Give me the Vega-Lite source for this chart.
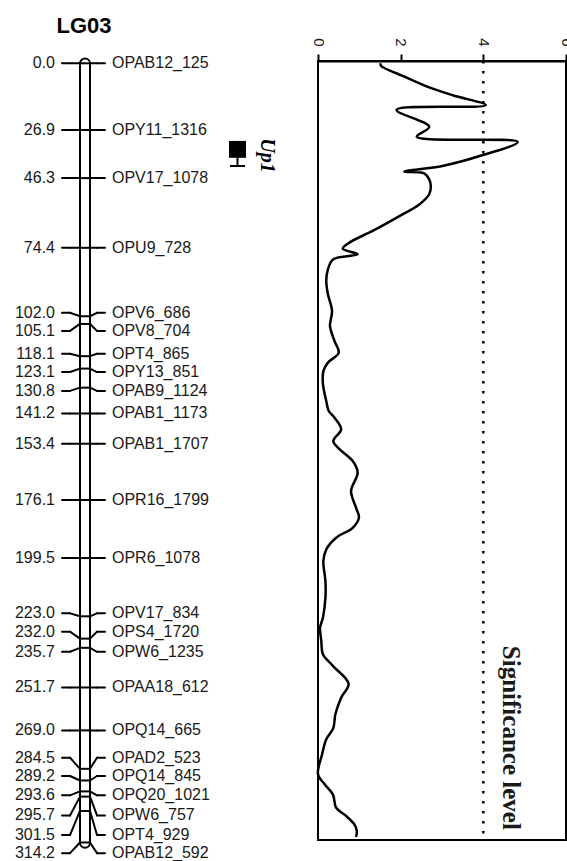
{
  "$schema": "https://vega.github.io/schema/vega-lite/v6.json",
  "padding": {"left": 0, "top": 14, "right": 0, "bottom": 0},
  "spacing": 18,
  "bounds": "flush",
  "config": {"view": {"stroke": null}, "font": "Liberation Sans"},
  "datasets": {
    "markers": [
      {"marker": "OPAB12_125", "cM": 0.0, "lab": 0.0},
      {"marker": "OPY11_1316", "cM": 26.9, "lab": 26.9},
      {"marker": "OPV17_1078", "cM": 46.3, "lab": 46.3},
      {"marker": "OPU9_728", "cM": 74.4, "lab": 74.4},
      {"marker": "OPV6_686", "cM": 102.0, "lab": 100.6},
      {"marker": "OPV8_704", "cM": 105.1, "lab": 107.9},
      {"marker": "OPT4_865", "cM": 118.1, "lab": 117.1},
      {"marker": "OPY13_851", "cM": 123.1, "lab": 124.5},
      {"marker": "OPAB9_1124", "cM": 130.8, "lab": 132.1},
      {"marker": "OPAB1_1173", "cM": 141.2, "lab": 141.2},
      {"marker": "OPAB1_1707", "cM": 153.4, "lab": 153.4},
      {"marker": "OPR16_1799", "cM": 176.1, "lab": 176.1},
      {"marker": "OPR6_1078", "cM": 199.5, "lab": 199.5},
      {"marker": "OPV17_834", "cM": 223.0, "lab": 221.8},
      {"marker": "OPS4_1720", "cM": 232.0, "lab": 229.2},
      {"marker": "OPW6_1235", "cM": 235.7, "lab": 237.3},
      {"marker": "OPAA18_612", "cM": 251.7, "lab": 251.7},
      {"marker": "OPQ14_665", "cM": 269.0, "lab": 269.0},
      {"marker": "OPAD2_523", "cM": 284.5, "lab": 280.0},
      {"marker": "OPQ14_845", "cM": 289.2, "lab": 287.4},
      {"marker": "OPQ20_1021", "cM": 293.6, "lab": 295.2},
      {"marker": "OPW6_757", "cM": 295.7, "lab": 303.3},
      {"marker": "OPT4_929", "cM": 301.5, "lab": 311.2},
      {"marker": "OPAB12_592", "cM": 314.2, "lab": 318.5}
    ],
    "lod": [
      {"cM": 0.0, "lod": 1.51}, {"cM": 1.1, "lod": 1.53}, {"cM": 5.1, "lod": 2.05},
      {"cM": 9.2, "lod": 2.61}, {"cM": 12.9, "lod": 3.26}, {"cM": 16.9, "lod": 4.06},
      {"cM": 18.8, "lod": 1.9}, {"cM": 25.6, "lod": 2.69}, {"cM": 29.6, "lod": 2.39},
      {"cM": 31.7, "lod": 4.83}, {"cM": 37.1, "lod": 3.97}, {"cM": 41.4, "lod": 3.01},
      {"cM": 43.7, "lod": 2.09}, {"cM": 44.4, "lod": 2.57}, {"cM": 46.8, "lod": 2.69},
      {"cM": 49.5, "lod": 2.73}, {"cM": 52.8, "lod": 2.69}, {"cM": 56.9, "lod": 2.45},
      {"cM": 61.6, "lod": 1.97}, {"cM": 67.6, "lod": 1.32}, {"cM": 72.3, "lod": 0.76},
      {"cM": 74.8, "lod": 0.6}, {"cM": 77.0, "lod": 0.96}, {"cM": 79.0, "lod": 0.37},
      {"cM": 83.1, "lod": 0.24}, {"cM": 87.8, "lod": 0.2}, {"cM": 93.1, "lod": 0.24},
      {"cM": 99.9, "lod": 0.34}, {"cM": 105.9, "lod": 0.29}, {"cM": 112.0, "lod": 0.4},
      {"cM": 116.7, "lod": 0.5}, {"cM": 120.7, "lod": 0.24}, {"cM": 124.1, "lod": 0.13},
      {"cM": 129.4, "lod": 0.12}, {"cM": 136.2, "lod": 0.2}, {"cM": 140.2, "lod": 0.26},
      {"cM": 142.9, "lod": 0.4}, {"cM": 147.6, "lod": 0.56}, {"cM": 152.3, "lod": 0.37},
      {"cM": 155.6, "lod": 0.52}, {"cM": 160.4, "lod": 0.84}, {"cM": 165.1, "lod": 0.96},
      {"cM": 172.5, "lod": 0.8}, {"cM": 179.2, "lod": 0.92}, {"cM": 183.2, "lod": 0.99},
      {"cM": 187.3, "lod": 0.84}, {"cM": 191.3, "lod": 0.44}, {"cM": 196.0, "lod": 0.2},
      {"cM": 200.7, "lod": 0.13}, {"cM": 208.8, "lod": 0.18}, {"cM": 215.5, "lod": 0.18},
      {"cM": 223.5, "lod": 0.12}, {"cM": 227.6, "lod": 0.05}, {"cM": 232.9, "lod": 0.08},
      {"cM": 238.3, "lod": 0.12}, {"cM": 243.0, "lod": 0.36}, {"cM": 250.2, "lod": 0.74},
      {"cM": 255.8, "lod": 0.56}, {"cM": 262.5, "lod": 0.42}, {"cM": 268.1, "lod": 0.37},
      {"cM": 272.6, "lod": 0.2}, {"cM": 278.6, "lod": 0.1}, {"cM": 286.7, "lod": 0.0},
      {"cM": 290.7, "lod": 0.16}, {"cM": 294.8, "lod": 0.36}, {"cM": 300.2, "lod": 0.44},
      {"cM": 303.5, "lod": 0.68}, {"cM": 306.9, "lod": 0.88}, {"cM": 309.6, "lod": 0.94},
      {"cM": 312.0, "lod": 0.92}
    ],
    "qtl": [
      {"qtl": "Up1", "box_lo": 31.3, "box_hi": 38.1, "wh_lo": 31.3, "wh_hi": 41.4}
    ]
  },
  "hconcat": [
    {
      "width": 300,
      "height": 779,
      "view": {"stroke": null},
      "layer": [
        {
          "data": {"values": [{"chromosome": "LG03"}]},
          "mark": {"type": "rect", "fill": "white", "stroke": "black", "strokeWidth": 2, "cornerRadius": 5},
          "encoding": {
            "x": {"datum": 80, "type": "quantitative", "scale": {"domain": [0, 300], "nice": false, "zero": false}, "axis": null},
            "x2": {"datum": 90},
            "y": {"datum": -1.9, "type": "quantitative", "scale": {"domain": [-0.93, 313.2], "reverse": true, "nice": false, "zero": false}, "axis": null},
            "y2": {"datum": 316.3}
          }
        },
        {
          "data": {"values": [{"chromosome": "LG03"}]},
          "mark": {"type": "text", "fontSize": 22, "fontWeight": "bold", "font": "Liberation Sans", "align": "center", "baseline": "alphabetic", "color": "black"},
          "encoding": {
            "x": {"datum": 84, "type": "quantitative"},
            "y": {"datum": -12.3, "type": "quantitative"},
            "text": {"field": "chromosome"}
          }
        },
        {
          "data": {"name": "markers"},
          "mark": {"type": "rule", "color": "black", "strokeWidth": 2, "strokeCap": "round"},
          "encoding": {
            "x": {"datum": 62, "type": "quantitative"}, "x2": {"datum": 70},
            "y": {"field": "lab", "type": "quantitative"}, "y2": {"field": "lab"}
          }
        },
        {
          "data": {"name": "markers"},
          "mark": {"type": "rule", "color": "black", "strokeWidth": 2, "strokeCap": "round"},
          "encoding": {
            "x": {"datum": 70, "type": "quantitative"}, "x2": {"datum": 80},
            "y": {"field": "lab", "type": "quantitative"}, "y2": {"field": "cM"}
          }
        },
        {
          "data": {"name": "markers"},
          "mark": {"type": "rule", "color": "black", "strokeWidth": 2},
          "encoding": {
            "x": {"datum": 80, "type": "quantitative"}, "x2": {"datum": 90},
            "y": {"field": "cM", "type": "quantitative"}, "y2": {"field": "cM"}
          }
        },
        {
          "data": {"name": "markers"},
          "mark": {"type": "rule", "color": "black", "strokeWidth": 2, "strokeCap": "round"},
          "encoding": {
            "x": {"datum": 90, "type": "quantitative"}, "x2": {"datum": 97},
            "y": {"field": "cM", "type": "quantitative"}, "y2": {"field": "lab"}
          }
        },
        {
          "data": {"name": "markers"},
          "mark": {"type": "rule", "color": "black", "strokeWidth": 2, "strokeCap": "round"},
          "encoding": {
            "x": {"datum": 97, "type": "quantitative"}, "x2": {"datum": 105},
            "y": {"field": "lab", "type": "quantitative"}, "y2": {"field": "lab"}
          }
        },
        {
          "data": {"name": "markers"},
          "mark": {"type": "text", "fontSize": 16, "font": "Liberation Sans", "align": "right", "baseline": "middle", "color": "#1a1a1a"},
          "encoding": {
            "x": {"datum": 55, "type": "quantitative"},
            "y": {"field": "lab", "type": "quantitative"},
            "text": {"field": "cM", "type": "quantitative", "format": ".1f"}
          }
        },
        {
          "data": {"name": "markers"},
          "mark": {"type": "text", "fontSize": 16, "font": "Liberation Sans", "align": "left", "baseline": "middle", "color": "#1a1a1a"},
          "encoding": {
            "x": {"datum": 112, "type": "quantitative"},
            "y": {"field": "lab", "type": "quantitative"},
            "text": {"field": "marker"}
          }
        },
        {
          "data": {"name": "qtl"},
          "mark": {"type": "rule", "color": "black", "strokeWidth": 2},
          "encoding": {
            "x": {"datum": 237.5, "type": "quantitative"},
            "y": {"field": "wh_lo", "type": "quantitative"}, "y2": {"field": "wh_hi"}
          }
        },
        {
          "data": {"name": "qtl"},
          "mark": {"type": "rule", "color": "black", "strokeWidth": 2},
          "encoding": {
            "x": {"datum": 230, "type": "quantitative"}, "x2": {"datum": 245},
            "y": {"field": "wh_hi", "type": "quantitative"}, "y2": {"field": "wh_hi"}
          }
        },
        {
          "data": {"name": "qtl"},
          "mark": {"type": "rect", "color": "black"},
          "encoding": {
            "x": {"datum": 229, "type": "quantitative"}, "x2": {"datum": 246},
            "y": {"field": "box_lo", "type": "quantitative"}, "y2": {"field": "box_hi"}
          }
        },
        {
          "data": {"name": "qtl"},
          "mark": {"type": "text", "angle": 90, "fontSize": 20, "font": "Liberation Serif", "fontWeight": "bold", "fontStyle": "italic", "align": "center", "baseline": "middle", "color": "black"},
          "encoding": {
            "x": {"datum": 266.5, "type": "quantitative"},
            "y": {"datum": 37.2, "type": "quantitative"},
            "text": {"field": "qtl"}
          }
        }
      ]
    },
    {
      "width": 248,
      "height": 779,
      "view": {"stroke": "black", "strokeWidth": 2},
      "layer": [
        {
          "data": {"name": "lod"},
          "mark": {"type": "line", "color": "black", "strokeWidth": 2.5, "strokeJoin": "round", "interpolate": "catmull-rom"},
          "encoding": {
            "x": {
              "field": "lod", "type": "quantitative",
              "scale": {"domain": [0, 6], "nice": false, "zero": true},
              "axis": {"orient": "top", "values": [0, 2, 4, 6], "labelAngle": 90, "labelAlign": "right", "labelBaseline": "middle", "labelFontSize": 15, "labelFont": "Liberation Sans", "labelColor": "#1a1a1a", "labelPadding": 8, "labelFlush": false, "labelOverlap": false, "tickColor": "black", "tickSize": 7, "tickWidth": 2, "domainColor": "black", "domainWidth": 2, "grid": false, "title": null}
            },
            "y": {"field": "cM", "type": "quantitative", "scale": {"domain": [-0.93, 313.2], "reverse": true, "nice": false, "zero": false}, "axis": null},
            "order": {"field": "cM"}
          }
        },
        {
          "data": {"values": [{"threshold": 4}]},
          "mark": {"type": "rule", "color": "black", "strokeWidth": 2.5, "strokeDash": [2.5, 7.5]},
          "encoding": {
            "x": {"field": "threshold", "type": "quantitative"}
          }
        },
        {
          "data": {"values": [{"label": "Significance level"}]},
          "mark": {"type": "text", "angle": 90, "fontSize": 25, "font": "Liberation Serif", "fontWeight": "bold", "align": "center", "baseline": "middle", "color": "#1a1a1a"},
          "encoding": {
            "x": {"datum": 4.67, "type": "quantitative"},
            "y": {"datum": 272, "type": "quantitative"},
            "text": {"field": "label"}
          }
        }
      ]
    }
  ]
}
